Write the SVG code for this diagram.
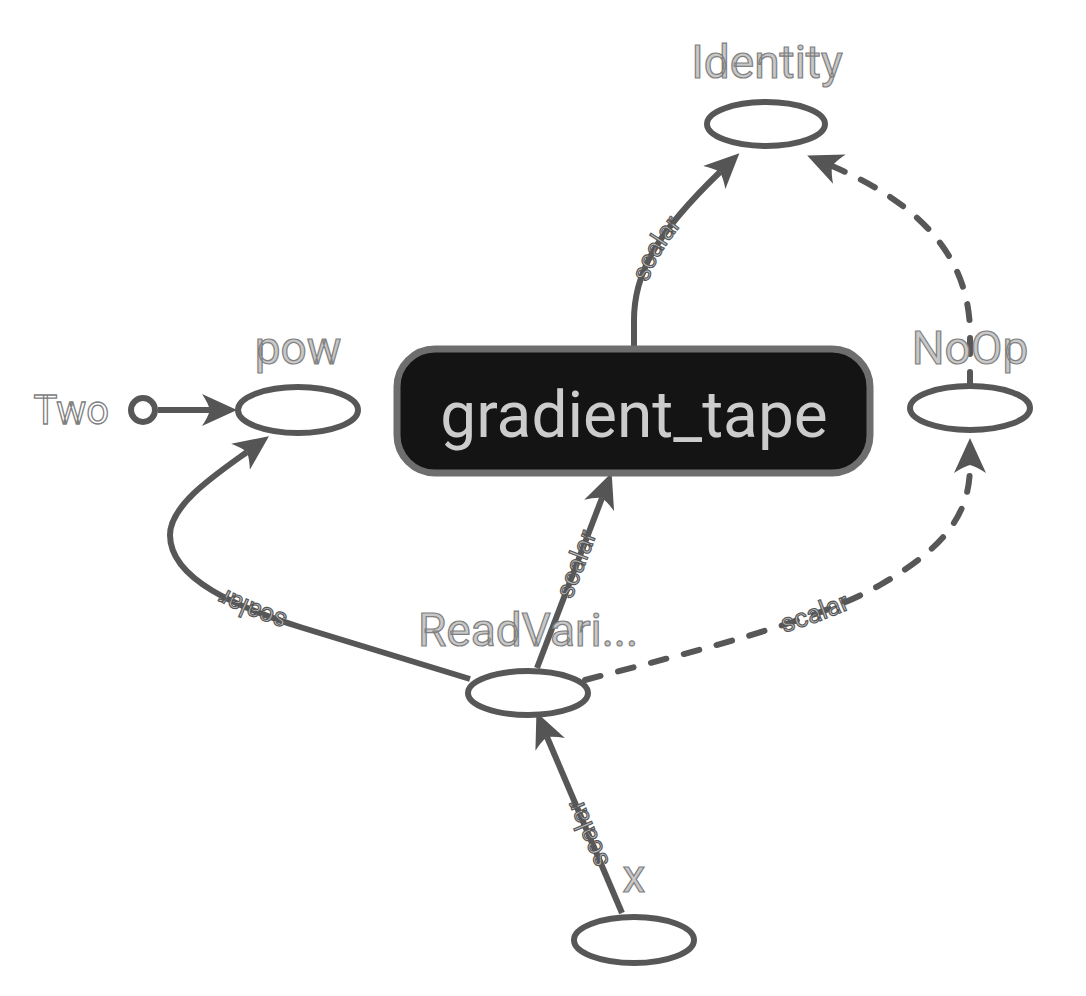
<svg xmlns="http://www.w3.org/2000/svg" width="1086" height="996" viewBox="0 0 1086 996">
<style>
.node ellipse{fill:#fff;stroke:#575757;stroke-width:6}
.lbl{font-family:Roboto,"Liberation Sans",sans-serif;font-size:46px;fill:#c8c8c8;stroke:#808080;stroke-width:1.2;text-anchor:middle}
.edge{fill:none;stroke:#575757;stroke-width:6;marker-end:url(#arr)}
.dash{stroke-dasharray:16 18;stroke-linecap:round}
.elbl{font-family:Roboto,"Liberation Sans",sans-serif;font-size:26px;fill:#bdbdbd;stroke:#555;stroke-width:1.1;text-anchor:middle}
</style>
<defs>
<marker id="arr" viewBox="0 -18 38 36" refX="8" refY="0" markerWidth="38" markerHeight="36" markerUnits="userSpaceOnUse" orient="auto">
<path d="M35,0 L0,-16 Q6,-7 8,0 Q6,7 0,16 Z" fill="#555"/>
</marker>
<path id="p1" d="M622,913 L547,737"/>
<path id="p2" d="M537,668 L602,498"/>
<path id="p3" d="M470,679 L300,627 C240,608 170,580 170,535 C170,505 215,475 247,452"/>
<path id="p4" d="M585,680 C700,650 820,620 880,585 C950,545 970,510 970,465"/>
<path id="p5" d="M634,348 L634,320 C634,270 660,230 720,172"/>
<path id="p6" d="M970,388 L970,340 C972,270 935,210 832,166"/>
</defs>
<g id="connectors">
<line class="edge" x1="158" y1="410" x2="210" y2="410"/>
<use href="#p1" class="edge"/>
<use href="#p2" class="edge"/>
<use href="#p3" class="edge"/>
<use href="#p4" class="edge dash"/>
<use href="#p5" class="edge"/>
<use href="#p6" class="edge dash"/>
<text class="elbl" dy="8"><textPath href="#p1" startOffset="45%">scalar</textPath></text>
<text class="elbl" dy="8"><textPath href="#p2" startOffset="61%">scalar</textPath></text>
<text class="elbl" dy="8"><textPath href="#p3" startOffset="228">scalar</textPath></text>
<text class="elbl" dy="8"><textPath href="#p4" startOffset="51%">scalar</textPath></text>
<text class="elbl" dy="8"><textPath href="#p5" startOffset="51%">scalar</textPath></text>
</g>
<g id="node-two">
<circle cx="143" cy="410" r="12" fill="#fff" stroke="#575757" stroke-width="6"/>
<text x="109" y="424" font-family="Roboto,'Liberation Sans',sans-serif" font-size="40" fill="#fff" stroke="#808080" stroke-width="1.3" text-anchor="end">Two</text>
</g>
<g id="node-identity" class="node">
<ellipse cx="766" cy="124" rx="59" ry="22"/>
<text class="lbl" x="767" y="78">Identity</text>
</g>
<g id="node-pow" class="node">
<ellipse cx="298" cy="410" rx="60" ry="23"/>
<text class="lbl" x="298" y="364">pow</text>
</g>
<g id="node-noop" class="node">
<ellipse cx="970" cy="408" rx="60" ry="22"/>
<text class="lbl" x="970" y="364">NoOp</text>
</g>
<g id="node-readvari" class="node">
<ellipse cx="528" cy="693" rx="60" ry="22"/>
<text class="lbl" x="528" y="646">ReadVari...</text>
</g>
<g id="node-x" class="node">
<ellipse cx="634" cy="940" rx="60" ry="23"/>
<text class="lbl" x="634" y="892">x</text>
</g>
<g id="node-gradient_tape">
<rect x="397" y="349" width="473" height="124" rx="38" fill="#141414" stroke="#6e6e6e" stroke-width="7"/>
<text x="634" y="437" font-family="Roboto,'Liberation Sans',sans-serif" font-size="64" fill="#cccccc" text-anchor="middle">gradient_tape</text>
</g>
</svg>
